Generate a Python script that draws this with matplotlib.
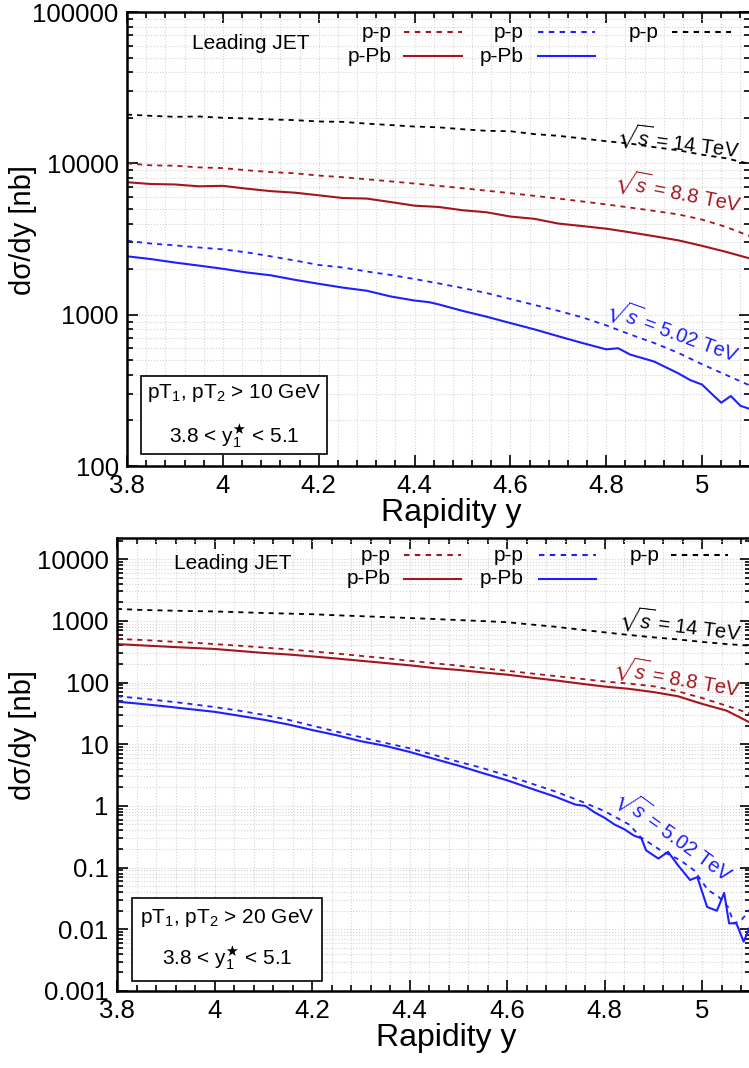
import matplotlib
matplotlib.use("Agg")
import matplotlib.pyplot as plt
from matplotlib.lines import Line2D
from matplotlib.patches import Rectangle
from matplotlib.ticker import MultipleLocator, LogLocator, FuncFormatter, NullFormatter

plt.rcParams['font.family'] = ['Liberation Sans', 'DejaVu Sans']
plt.rcParams['mathtext.fontset'] = 'custom'
plt.rcParams['mathtext.rm'] = 'Liberation Sans'
plt.rcParams['mathtext.it'] = 'Liberation Sans:italic'
plt.rcParams['mathtext.bf'] = 'Liberation Sans:bold'
plt.rcParams['mathtext.fallback'] = 'stixsans'

RED = '#a3161e'
BLUE = '#1f1fff'

##############
# rapidity grid (0.05 steps)
y05 = [3.80, 3.85, 3.90, 3.95, 4.00, 4.05, 4.10, 4.15, 4.20, 4.25, 4.30, 4.35, 4.40,
       4.45, 4.50, 4.55, 4.60, 4.65, 4.70, 4.75, 4.80, 4.85, 4.90, 4.95, 5.00, 5.05, 5.10]

#############################
# upper panel: pT > 10 GeV
top_pp14 = [21000, 20600, 20300, 20400, 20000, 19800, 19500, 19300, 18900, 18800, 18300, 17900, 17500,
            17300, 16800, 16400, 16300, 15600, 15200, 14600, 14000, 13500, 12800, 12200, 11400, 10800, 9900]
top_pp88 = [10000, 9700, 9650, 9400, 9300, 9000, 8750, 8600, 8300, 8100, 7850, 7600, 7350,
            7100, 6850, 6600, 6350, 6100, 5850, 5600, 5350, 5100, 4850, 4600, 4250, 3800, 3300]
top_ppb88 = [7500, 7300, 7250, 7050, 7100, 6800, 6550, 6400, 6150, 5900, 5850, 5550, 5250,
             5150, 4900, 4750, 4450, 4300, 4000, 3850, 3700, 3500, 3300, 3100, 2850, 2600, 2350]
top_pp502 = [3080, 2950, 2870, 2780, 2700, 2580, 2430, 2280, 2130, 2050, 1930, 1830, 1720,
             1610, 1500, 1390, 1270, 1160, 1060, 960, 850, 740, 650, 560, 470, 400, 340]
top_ppb502_y = [3.80, 3.85, 3.90, 3.95, 4.00, 4.05, 4.10, 4.15, 4.20, 4.25, 4.30, 4.35, 4.40, 4.43,
                4.45, 4.50, 4.55, 4.60, 4.65, 4.70, 4.75, 4.80, 4.825, 4.85, 4.90, 4.95, 4.975,
                5.00, 5.02, 5.04, 5.06, 5.08, 5.10]
top_ppb502 = [2430, 2330, 2210, 2110, 2010, 1900, 1820, 1700, 1600, 1510, 1440, 1320, 1240, 1210,
              1170, 1060, 970, 880, 800, 720, 650, 590, 600, 545, 490, 410, 370,
              345, 300, 262, 290, 250, 238]

#############################
# lower panel: pT > 20 GeV
bot_pp14 = [1560, 1500, 1470, 1440, 1420, 1380, 1340, 1310, 1280, 1230, 1190, 1150, 1110,
            1070, 1030, 990, 950, 870, 800, 720, 650, 590, 540, 500, 455, 420, 395]
bot_pp88 = [510, 490, 465, 445, 420, 395, 370, 345, 320, 295, 270, 248, 225,
            205, 188, 170, 155, 140, 127, 115, 104, 96, 87, 72, 56, 42, 31]
bot_ppb88 = [420, 400, 382, 365, 350, 325, 302, 285, 265, 245, 225, 207, 190,
             172, 160, 146, 134, 120, 108, 96, 86, 79, 70, 60, 45, 35, 22]
bot_pp502_y = [3.80, 3.85, 3.90, 3.95, 4.00, 4.05, 4.10, 4.15, 4.20, 4.25, 4.30, 4.35, 4.40,
               4.45, 4.50, 4.55, 4.60, 4.65, 4.70, 4.75, 4.80, 4.85, 4.874, 4.915, 4.956,
               4.983, 5.012, 5.033, 5.053, 5.065, 5.08, 5.10]
bot_pp502 = [60, 55, 50, 45, 40, 35, 30, 25, 20, 16, 13, 10.5, 8.6,
             6.7, 5.2, 4.1, 3.1, 2.3, 1.7, 1.2, 0.82, 0.5, 0.31, 0.19, 0.13,
             0.091, 0.043, 0.034, 0.023, 0.0125, 0.014, 0.022]
bot_ppb502_y = [3.80, 3.85, 3.90, 3.95, 4.00, 4.05, 4.10, 4.15, 4.20, 4.25, 4.30, 4.35, 4.40,
                4.45, 4.50, 4.55, 4.60, 4.65, 4.70, 4.74, 4.76, 4.78, 4.80, 4.82, 4.84, 4.86,
                4.875, 4.885, 4.91, 4.93, 4.95, 4.975, 4.99, 5.01, 5.03, 5.045, 5.055,
                5.07, 5.085, 5.10]
bot_ppb502 = [49, 45, 41, 37, 33.5, 29, 25, 21, 17, 14, 11.2, 9.4, 7.5,
              5.8, 4.5, 3.4, 2.6, 1.9, 1.4, 1.05, 1.0, 0.78, 0.64, 0.5, 0.42, 0.33,
              0.3, 0.19, 0.14, 0.18, 0.11, 0.063, 0.07, 0.023, 0.02, 0.039, 0.0125,
              0.0125, 0.0063, 0.012]

xticks = [3.8, 4.0, 4.2, 4.4, 4.6, 4.8, 5.0]


def style_axes(ax, ylim, yticks):
    ax.set_yscale('log')
    ax.set_xlim(3.8, 5.1)
    ax.set_ylim(*ylim)
    ax.set_xticks(xticks)
    ax.xaxis.set_minor_locator(MultipleLocator(0.04))
    ax.set_yticks(yticks)
    ax.yaxis.set_minor_locator(LogLocator(base=10, subs=range(2, 10), numticks=30))
    ax.yaxis.set_minor_formatter(NullFormatter())
    ax.xaxis.set_major_formatter(FuncFormatter(lambda v, p: '%g' % round(v, 2)))
    ax.yaxis.set_major_formatter(FuncFormatter(lambda v, p: '%g' % v))
    ax.tick_params(which='both', direction='in', top=True, right=True, labelsize=18.5, width=1.2)
    ax.tick_params(which='major', length=8, pad=6)
    ax.tick_params(which='minor', length=4)
    ax.grid(True, which='both', color='#d4d4d4', linestyle=':', linewidth=0.8)
    ax.set_axisbelow(True)
    for s in ax.spines.values():
        s.set_linewidth(1.8)
    ax.set_xlabel('Rapidity y', fontsize=23)
    ax.set_ylabel('d\u03c3/dy [nb]', fontsize=21)


def legend_block(ax, rows, lead_xy):
    ax.text(lead_xy[0], lead_xy[1], 'Leading JET', transform=ax.transAxes,
            ha='center', va='center', fontsize=15)
    for label, tx, x0, x1, yy, col, ls in rows:
        ax.text(tx, yy, label, transform=ax.transAxes, ha='right', va='center', fontsize=15)
        ln = Line2D([x0, x1], [yy, yy], transform=ax.transAxes, color=col, lw=1.5)
        if ls == 'dash':
            ln.set_dashes((2.6, 2.6))
        ax.add_line(ln)


def cut_box(ax, x0, y0, x1, y1, line1, line2, ty1, ty2):
    ax.add_patch(Rectangle((x0, y0), x1 - x0, y1 - y0, transform=ax.transAxes,
                           facecolor='white', edgecolor='black', lw=1.2, zorder=5))
    xc = (x0 + x1) / 2
    ax.text(xc, ty1, line1, transform=ax.transAxes, ha='center', va='center', fontsize=15, zorder=6)
    ax.text(xc, ty2, line2, transform=ax.transAxes, ha='center', va='center', fontsize=15, zorder=6)


fig = plt.figure(figsize=(7.49, 10.68), dpi=100)
ax1 = fig.add_axes([127 / 749, 1 - 466 / 1068, 623 / 749, 454 / 1068])
ax2 = fig.add_axes([117 / 749, 1 - 991 / 1068, 634 / 749, 453 / 1068])

#########################
# upper panel
ax1.plot(y05, top_pp14, color='black', lw=1.3, dashes=(2.8, 2.8))
ax1.plot(y05, top_pp88, color=RED, lw=1.3, dashes=(2.8, 2.8))
ax1.plot(y05, top_ppb88, color=RED, lw=1.5)
ax1.plot(y05, top_pp502, color=BLUE, lw=1.3, dashes=(2.8, 2.8))
ax1.plot(top_ppb502_y, top_ppb502, color=BLUE, lw=1.5)
style_axes(ax1, (100, 100000), [100, 1000, 10000, 100000])
ax1.xaxis.set_label_coords(0.52, -0.07)
ax1.yaxis.set_label_coords(-0.145, 0.52)

legend_block(ax1, [
    ('p-p', 0.424, 0.444, 0.537, 0.955, RED, 'dash'),
    ('p-Pb', 0.424, 0.444, 0.537, 0.903, RED, 'solid'),
    ('p-p', 0.637, 0.659, 0.752, 0.955, BLUE, 'dash'),
    ('p-Pb', 0.637, 0.659, 0.752, 0.903, BLUE, 'solid'),
    ('p-p', 0.853, 0.875, 0.969, 0.955, 'black', 'dash'),
], (0.198, 0.930))

ax1.text(0.884, 0.714, r'$\sqrt{s}$ = 14 TeV', transform=ax1.transAxes, rotation=-7,
         ha='center', va='center', fontsize=14.5, color='black')
ax1.text(0.884, 0.604, r'$\sqrt{s}$ = 8.8 TeV', transform=ax1.transAxes, rotation=-11,
         ha='center', va='center', fontsize=14.5, color=RED)
ax1.text(0.877, 0.297, r'$\sqrt{s}$ = 5.02 TeV', transform=ax1.transAxes, rotation=-20,
         ha='center', va='center', fontsize=14.5, color=BLUE)

cut_box(ax1, 0.0225, 0.026, 0.3215, 0.198,
        r'pT$_1$, pT$_2$ > 10 GeV', r'3.8 < y$_1^{\bigstar}$ < 5.1', 0.161, 0.066)

#########################
# lower panel
ax2.plot(y05, bot_pp14, color='black', lw=1.3, dashes=(2.8, 2.8))
ax2.plot(y05, bot_pp88, color=RED, lw=1.3, dashes=(2.8, 2.8))
ax2.plot(y05, bot_ppb88, color=RED, lw=1.5)
ax2.plot(bot_pp502_y, bot_pp502, color=BLUE, lw=1.3, dashes=(2.8, 2.8))
ax2.plot(bot_ppb502_y, bot_ppb502, color=BLUE, lw=1.5)
style_axes(ax2, (0.001, 22000), [0.001, 0.01, 0.1, 1, 10, 100, 1000, 10000])
ax2.xaxis.set_label_coords(0.52, -0.07)
ax2.yaxis.set_label_coords(-0.126, 0.565)

legend_block(ax2, [
    ('p-p', 0.431, 0.452, 0.542, 0.962, RED, 'dash'),
    ('p-Pb', 0.431, 0.452, 0.542, 0.910, RED, 'solid'),
    ('p-p', 0.642, 0.665, 0.755, 0.962, BLUE, 'dash'),
    ('p-Pb', 0.642, 0.665, 0.755, 0.910, BLUE, 'solid'),
    ('p-p', 0.855, 0.874, 0.964, 0.962, 'black', 'dash'),
], (0.183, 0.943))

ax2.text(0.888, 0.808, r'$\sqrt{s}$ = 14 TeV', transform=ax2.transAxes, rotation=-7,
         ha='center', va='center', fontsize=14.5, color='black')
ax2.text(0.884, 0.691, r'$\sqrt{s}$ = 8.8 TeV', transform=ax2.transAxes, rotation=-10,
         ha='center', va='center', fontsize=14.5, color=RED)
ax2.text(0.880, 0.344, r'$\sqrt{s}$ = 5.02 TeV', transform=ax2.transAxes, rotation=-36,
         ha='center', va='center', fontsize=14.5, color=BLUE)

cut_box(ax2, 0.0237, 0.022, 0.324, 0.205,
        r'pT$_1$, pT$_2$ > 20 GeV', r'3.8 < y$_1^{\bigstar}$ < 5.1', 0.161, 0.073)

fig.savefig('out.png', dpi=100)
